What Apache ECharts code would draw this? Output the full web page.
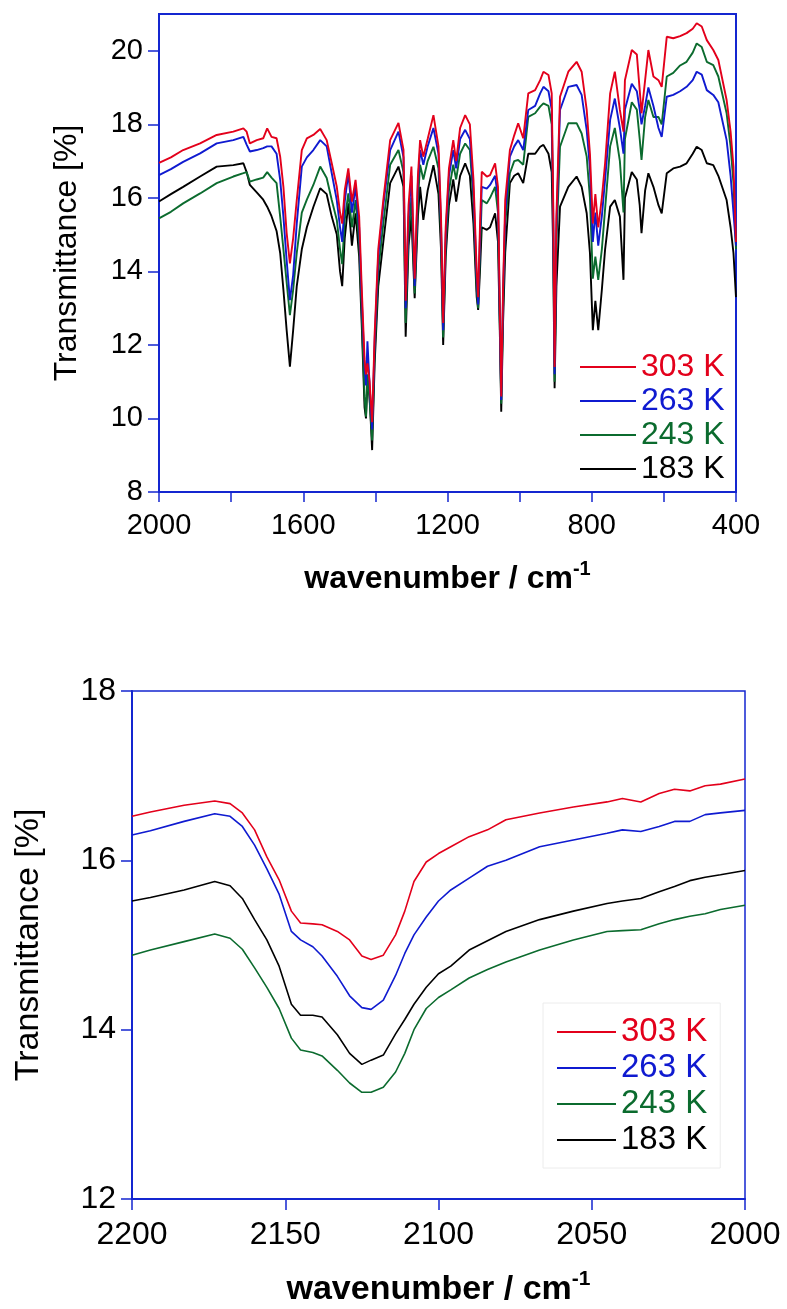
<!DOCTYPE html>
<html>
<head>
<meta charset="utf-8">
<script src="https://cdn.jsdelivr.net/npm/echarts@6/dist/echarts.min.js"></script>
<style>
html,body{margin:0;padding:0;background:#fff;}
#c{width:787px;height:1309px;}
</style>
</head>
<body>
<div id="c"></div>
<script>
// ---------- top panel: 2000-400 cm-1 ----------
const topWn = [2000,1967,1933,1886,1840,1794,1766,1757,1748,1729,1711,1700,1688,1674,1664,1655,1646,1637,1628,1618,1604,1590,1572,1553,1535,1521,1507,1498,1492,1485,1475,1465,1455,1445,1438,1430,1426,1422,1416,1409,1402,1392,1378,1359,1336,1322,1316,1308,1300,1291,1282,1276,1267,1255,1239,1225,1218,1212,1205,1196,1184,1176,1165,1151,1138,1128,1119,1115,1110,1105,1091,1082,1068,1060,1055,1051,1046,1040,1027,1015,1004,990,976,957,943,934,920,911,907,903,898,888,865,842,828,814,805,797,790,782,772,763,749,736,722,712,708,689,675,667,662,652,643,629,615,606,592,574,555,537,520,509,495,481,463,449,426,415,407,400];
const top303 = [16.95,17.10,17.30,17.48,17.71,17.80,17.89,17.80,17.48,17.57,17.62,17.89,17.66,17.62,17.12,16.30,15.04,14.22,14.90,15.94,17.30,17.62,17.71,17.87,17.57,16.94,16.30,15.60,15.30,16.20,16.80,15.90,16.49,15.50,13.60,11.60,11.20,11.50,11.00,9.90,12.30,14.60,15.94,17.57,18.04,17.30,13.20,15.80,16.85,13.80,16.60,17.57,17.12,17.60,18.25,17.40,15.50,12.60,15.20,16.80,17.57,17.00,17.90,18.25,18.00,16.50,14.00,13.30,15.20,16.71,16.58,16.62,16.94,16.30,13.00,10.60,13.50,15.94,17.30,17.70,18.03,17.62,18.84,18.93,19.20,19.43,19.34,18.84,16.00,11.40,15.50,18.75,19.43,19.70,19.43,18.39,17.20,15.30,16.10,15.20,16.00,16.94,18.84,19.43,18.39,17.80,19.20,20.02,19.90,18.93,18.30,19.20,20.02,19.30,19.20,19.02,20.38,20.34,20.40,20.48,20.60,20.75,20.66,20.29,20.02,19.75,18.66,17.80,16.85,14.80];
const top263 = [16.62,16.78,16.98,17.21,17.48,17.57,17.66,17.45,17.26,17.30,17.35,17.40,17.40,17.20,16.49,15.49,14.30,13.22,13.90,15.30,16.85,17.10,17.30,17.57,17.40,16.67,15.94,15.20,14.80,15.90,16.67,15.60,16.30,15.20,13.30,11.40,10.90,12.10,10.90,9.70,12.10,14.40,15.80,17.30,17.80,17.10,13.00,15.50,16.60,13.60,16.40,17.30,16.90,17.40,17.90,17.20,15.30,12.40,15.00,16.60,17.30,16.80,17.60,17.85,17.60,16.20,13.80,13.10,14.90,16.30,16.25,16.35,16.60,16.00,12.80,10.50,13.30,15.60,17.12,17.40,17.57,17.30,18.39,18.50,18.84,19.02,18.90,18.40,15.70,11.20,15.20,18.39,19.02,19.07,18.80,17.84,16.80,14.80,15.60,14.70,15.50,16.50,18.12,18.70,17.90,17.20,18.40,19.10,18.90,18.40,18.00,18.50,19.00,18.50,17.90,17.66,18.75,18.80,18.90,19.02,19.20,19.43,19.35,18.93,18.80,18.60,17.57,16.60,15.60,14.70];
const top243 = [15.44,15.62,15.85,16.12,16.40,16.58,16.67,16.70,16.44,16.50,16.55,16.70,16.55,16.40,15.49,14.60,13.70,12.81,13.50,14.50,15.60,15.95,16.35,16.85,16.54,15.94,15.40,14.60,14.20,15.40,16.12,15.20,15.94,14.80,12.90,10.60,10.05,11.20,10.50,9.40,11.80,14.00,15.30,16.90,17.30,16.70,12.60,15.00,16.00,13.40,15.90,16.90,16.50,17.00,17.39,16.80,15.00,12.20,14.70,16.20,16.90,16.50,17.20,17.48,17.30,15.90,13.50,13.00,14.50,15.94,15.85,16.00,16.30,15.60,12.60,10.40,13.00,15.30,16.67,17.00,17.03,16.90,18.20,18.30,18.48,18.57,18.50,18.00,15.30,11.00,14.80,17.39,18.03,18.03,17.75,17.12,16.00,13.80,14.40,13.77,14.60,15.70,17.40,17.90,17.00,15.60,17.60,18.60,18.40,17.60,17.03,18.20,18.66,18.20,18.20,18.00,19.30,19.40,19.60,19.70,19.95,20.20,20.10,19.70,19.61,19.30,18.30,17.40,16.40,14.60];
const top183 = [15.90,16.10,16.30,16.58,16.85,16.89,16.94,16.70,16.35,16.15,15.95,15.76,15.50,15.10,14.50,13.50,12.40,11.41,12.40,13.60,14.60,15.20,15.75,16.26,16.10,15.49,15.00,14.00,13.60,14.90,15.85,14.70,15.58,14.40,12.60,10.30,10.00,11.00,10.60,9.14,11.50,13.60,14.80,16.40,16.85,16.30,12.22,14.70,15.50,13.27,15.50,16.30,15.40,16.20,16.89,16.10,14.60,12.00,14.40,15.80,16.50,15.90,16.60,16.94,16.60,15.30,13.30,12.95,14.00,15.20,15.13,15.20,15.58,14.80,12.40,10.18,12.60,14.50,16.40,16.60,16.67,16.40,17.20,17.20,17.39,17.44,17.20,16.70,14.60,10.82,13.60,15.76,16.30,16.58,16.30,15.58,14.50,12.40,13.20,12.40,13.50,14.60,15.76,15.94,15.49,13.77,16.00,16.70,16.50,15.80,15.04,16.20,16.67,16.30,15.80,15.58,16.67,16.80,16.85,16.94,17.20,17.39,17.30,16.94,16.89,16.60,15.94,15.20,14.50,13.30];
const topXLabels = [2000,1600,1200,800,400];
const topXTicks = [2000,1800,1600,1400,1200,1000,800,600,400];
const topYLabels = [8,10,12,14,16,18,20];

// ---------- bottom panel: 2200-2000 cm-1 ----------
const botWn = [2200,2194,2183,2173,2168,2164,2160,2156,2152,2148,2145,2141,2138,2133,2129,2125,2122,2118,2114,2111,2108,2104,2100,2096,2090,2084,2078,2067,2056,2045,2040,2034,2028,2023,2018,2013,2008,2000];
const bot303 = [16.52,16.57,16.65,16.70,16.67,16.56,16.36,16.04,15.77,15.40,15.26,15.25,15.24,15.16,15.06,14.87,14.83,14.88,15.12,15.40,15.75,15.98,16.08,16.16,16.28,16.36,16.48,16.56,16.63,16.69,16.73,16.69,16.79,16.84,16.82,16.88,16.90,16.96];
const bot263 = [16.30,16.35,16.46,16.55,16.52,16.40,16.18,15.90,15.60,15.16,15.06,14.98,14.87,14.63,14.40,14.26,14.24,14.35,14.64,14.90,15.12,15.33,15.52,15.65,15.79,15.93,16.00,16.16,16.24,16.32,16.36,16.34,16.40,16.46,16.46,16.54,16.56,16.59];
const bot243 = [14.88,14.94,15.04,15.13,15.08,14.95,14.73,14.50,14.25,13.90,13.76,13.73,13.69,13.52,13.37,13.26,13.26,13.32,13.50,13.72,14.00,14.25,14.38,14.47,14.61,14.71,14.80,14.94,15.06,15.16,15.17,15.18,15.25,15.30,15.34,15.37,15.42,15.47];
const bot183 = [15.52,15.56,15.65,15.75,15.70,15.55,15.30,15.06,14.75,14.30,14.17,14.17,14.15,13.94,13.72,13.59,13.64,13.70,13.95,14.12,14.30,14.50,14.66,14.75,14.94,15.05,15.16,15.30,15.40,15.49,15.52,15.55,15.63,15.69,15.76,15.80,15.83,15.88];
const botYLabels = [12,14,16,18];

const seriesNames = ['303 K','263 K','243 K','183 K'];
const seriesColors = ['#e3001b','#0f1ad0','#0b6b2e','#000000'];

const FONT = "'Liberation Sans', Arial, Helvetica, sans-serif";
const AX = '#1426d0';

function pairs(xs, ys){ return xs.map((x,i)=>[x, ys[i]]); }
function plain(v){ return String(v); }

const topSets = [top303, top263, top243, top183];
const botSets = [bot303, bot263, bot243, bot183];

const series = [];
topSets.forEach((d,i)=>series.push({
  name: seriesNames[i], type:'line', xAxisIndex:0, yAxisIndex:0,
  data: pairs(topWn, d), showSymbol:false, symbol:'none',
  color: seriesColors[i], lineStyle:{width:1.9, color: seriesColors[i]},
  z: 10 - i, animation:false
}));
botSets.forEach((d,i)=>series.push({
  name: seriesNames[i], type:'line', xAxisIndex:1, yAxisIndex:1,
  data: pairs(botWn, d), showSymbol:false, symbol:'none',
  color: seriesColors[i], lineStyle:{width:1.6, color: seriesColors[i]},
  z: 10 - i, animation:false
}));

function legendData(){
  return seriesNames.map((n,i)=>({name:n, textStyle:{color: seriesColors[i]}}));
}

function xName(fs, sup){
  return {
    fontFamily: FONT,
    rich: {
      a: {fontSize: fs, fontWeight:'bold', color:'#000', fontFamily: FONT, lineHeight: fs + 8},
      s: {fontSize: sup, fontWeight:'bold', color:'#000', fontFamily: FONT, verticalAlign:'top', lineHeight: sup}
    }
  };
}

const option = {
  animation:false,
  backgroundColor:'#fff',
  grid: [
    {left:159, right:51, top:14, height:478, show:true, borderColor:AX, borderWidth:2, containLabel:false},
    {left:132, right:42, top:691, height:508, show:true, borderColor:AX, borderWidth:1.5, containLabel:false}
  ],
  xAxis: [
    {type:'value', gridIndex:0, min:400, max:2000, interval:200, inverse:true,
     axisLine:{show:true, lineStyle:{color:AX, width:2}},
     axisTick:{show:true, inside:false, length:10, lineStyle:{color:AX, width:1.5}, customValues: topXTicks},
     axisLabel:{show:true, margin:19, fontSize:29, color:'#000', fontFamily:FONT, customValues: topXLabels, formatter: plain},
     splitLine:{show:false},
     name:'{a|wavenumber / cm}{s|-1}', nameLocation:'middle', nameGap:67,
     nameTextStyle: xName(32, 20)},
    {type:'value', gridIndex:1, min:2000, max:2200, interval:50, inverse:true,
     axisLine:{show:true, lineStyle:{color:AX, width:2}},
     axisTick:{show:true, inside:false, length:11, lineStyle:{color:AX, width:1.5}},
     axisLabel:{show:true, margin:20, fontSize:32, color:'#000', fontFamily:FONT, formatter: plain},
     splitLine:{show:false},
     name:'{a|wavenumber / cm}{s|-1}', nameLocation:'middle', nameGap:70,
     nameTextStyle: xName(34, 21)}
  ],
  yAxis: [
    {type:'value', gridIndex:0, min:8, max:21, interval:2,
     axisLine:{show:true, lineStyle:{color:AX, width:2}},
     axisTick:{show:true, inside:false, length:11, lineStyle:{color:AX, width:1.5}, customValues: topYLabels},
     axisLabel:{show:true, margin:16, fontSize:29, color:'#000', fontFamily:FONT, customValues: topYLabels, formatter: plain},
     splitLine:{show:false},
     name:'Transmittance [%]', nameLocation:'middle', nameGap:76,
     nameTextStyle:{fontSize:32, color:'#000', fontFamily:FONT}},
    {type:'value', gridIndex:1, min:12, max:18, interval:2,
     axisLine:{show:true, lineStyle:{color:AX, width:2}},
     axisTick:{show:true, inside:false, length:11, lineStyle:{color:AX, width:1.5}, customValues: botYLabels},
     axisLabel:{show:true, margin:16, fontSize:32, color:'#000', fontFamily:FONT, customValues: botYLabels, formatter: plain},
     splitLine:{show:false},
     name:'Transmittance [%]', nameLocation:'middle', nameGap:86,
     nameTextStyle:{fontSize:34, color:'#000', fontFamily:FONT}}
  ],
  legend: [
    {data: legendData(), orient:'vertical', left:580, top:350, padding:0, itemGap:0,
     itemWidth:56, itemHeight:2, icon:'rect', selectedMode:false,
     textStyle:{fontSize:32, lineHeight:34, fontFamily:FONT}},
    {data: legendData(), orient:'vertical', left:543, top:1003, padding:[11,13,10,14], itemGap:0,
     itemWidth:59, itemHeight:2, icon:'rect', selectedMode:false,
     borderColor:'#ececec', borderWidth:1,
     textStyle:{fontSize:33, lineHeight:36, fontFamily:FONT}}
  ],
  series: series
};

const chart = echarts.init(document.getElementById('c'), null, {renderer:'canvas'});
chart.setOption(option);
</script>
</body>
</html>
